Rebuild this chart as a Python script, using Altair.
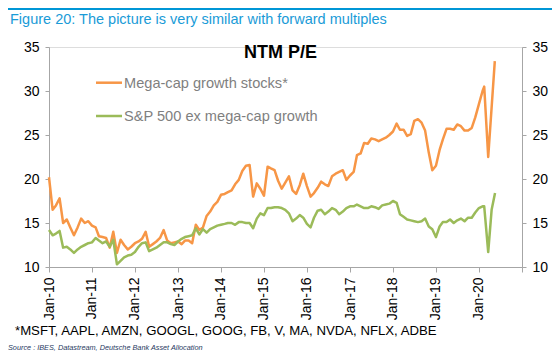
import altair as alt
import pandas as pd

# ---- data ----
# monthly readings Jan-2010 .. Feb-2020
mega_monthly = [
    20.2, 16.5, 17.0, 17.8, 15.0, 15.4, 14.5, 13.6, 14.5, 15.5, 15.0, 15.2,
    14.7, 14.5, 13.5, 13.4, 13.3, 12.2, 14.0, 11.6, 13.1, 12.5, 12.0, 12.3,
    12.7, 12.9, 13.2, 14.0, 12.3, 12.6, 12.9, 13.3, 14.2, 13.0, 12.7, 12.8,
    12.9, 12.6, 13.0, 13.0, 12.7, 14.8, 14.2, 14.5, 15.8, 16.3, 17.0, 17.4,
    18.2, 18.3, 18.5, 18.7, 19.4, 19.9, 20.9, 21.5, 21.6, 18.0, 19.5, 18.9,
    18.1, 21.4, 21.2, 21.0, 19.8, 18.9, 19.6, 20.3, 18.7, 18.3, 19.3, 20.6,
    19.2, 18.0, 18.4, 19.0, 19.7, 19.4, 19.2, 20.3, 20.6, 20.8, 21.0, 19.9,
    20.4, 20.8, 22.7, 22.9, 24.1, 24.0, 24.6, 24.5, 24.3, 24.5, 24.7, 25.0,
    25.4, 26.3, 25.6, 25.6, 24.9, 25.1, 26.6, 26.8, 26.4, 25.5, 23.0, 21.0,
    21.5, 23.3, 24.5, 25.7, 25.7, 25.6, 26.2, 26.0, 25.5, 25.5, 25.8, 27.0,
    28.5, 30.0,
]
ex_monthly = [
    14.2, 13.6, 13.8, 14.1, 12.2, 12.3, 12.0, 11.6, 12.0, 12.3, 12.5, 12.7,
    12.8, 13.3, 13.0, 12.7, 12.9, 12.3, 13.1, 10.3, 10.7, 11.1, 11.3, 11.4,
    11.7, 12.3, 12.7, 12.8, 11.8, 12.0, 12.2, 12.5, 12.8, 12.8, 12.6, 12.5,
    12.9, 13.2, 13.4, 13.5, 13.6, 14.4, 13.7, 14.3, 13.9, 14.3, 14.5, 14.7,
    14.8, 14.9, 15.0, 15.0, 14.8, 15.1, 15.1, 15.0, 15.0, 14.4, 15.5, 16.1,
    15.9, 16.7, 16.7, 16.8, 16.8, 16.7, 16.5, 16.1, 15.2, 15.5, 15.9, 15.6,
    14.9, 14.5, 15.6, 16.4, 16.5, 16.0, 16.3, 16.7, 16.5, 16.0, 16.3, 16.7,
    16.9, 16.9, 17.1, 16.9, 16.7, 16.7, 16.9, 16.8, 16.6, 17.0, 17.1, 17.2,
    17.5, 17.3, 16.0, 15.7, 15.4, 15.3, 15.2, 15.1, 15.2, 15.5, 14.6, 14.3,
    13.4, 14.6, 15.1, 15.1, 15.4, 15.0, 15.3, 15.5, 15.2, 15.6, 15.6, 16.2,
    16.7, 16.9,
]
# last readings of 2020 (irregular spacing)
mega_tail_dates = ["2020-02-15", "2020-03-20", "2020-05-15"]
mega_tail = [30.5, 22.5, 33.4]
ex_tail_dates = ["2020-02-15", "2020-03-20", "2020-04-18", "2020-05-17"]
ex_tail = [16.9, 11.7, 16.5, 18.4]

series_names = ["Mega-cap growth stocks*", "S&P 500 ex mega-cap growth"]
series_colors = ["#F79646", "#9BBB59"]
y_ticks = [10, 15, 20, 25, 30, 35]
x_tick_years = list(range(2010, 2022))

header = "Figure 20: The picture is very similar with forward multiples"
chart_title = "NTM P/E"
footnote = "*MSFT, AAPL, AMZN, GOOGL, GOOG, FB, V, MA, NVDA, NFLX, ADBE"
source = "Source : IBES, Datastream, Deutsche Bank Asset Allocation"

# ---- table ----
months = pd.date_range("2010-01-01", periods=len(mega_monthly), freq="MS")
rows = []
for d, v in zip(months, mega_monthly):
    rows.append({"date": d, "value": v, "series": series_names[0]})
for d, v in zip(mega_tail_dates, mega_tail):
    rows.append({"date": pd.Timestamp(d), "value": v, "series": series_names[0]})
for d, v in zip(months, ex_monthly):
    rows.append({"date": d, "value": v, "series": series_names[1]})
for d, v in zip(ex_tail_dates, ex_tail):
    rows.append({"date": pd.Timestamp(d), "value": v, "series": series_names[1]})
df = pd.DataFrame(rows)
df["date"] = df["date"].dt.strftime("%Y-%m-%d")

FONT = "Liberation Sans"
AXIS_GREY = "#A6A6A6"

x_scale = alt.Scale(domain=["2010-01-01", "2021-01-01"], nice=False)
y_scale = alt.Scale(domain=[10, 35], nice=False, zero=False)
color_scale = alt.Scale(domain=series_names, range=series_colors)

x_axis = alt.Axis(
    values=[f"{y}-01-01" for y in x_tick_years],
    labelExpr="year(datum.value) >= 2021 ? '' : timeFormat(datum.value, '%b-%y')",
    labelAngle=-90, labelAlign="right", labelBaseline="middle",
    labelFont=FONT, labelFontSize=14, labelColor="#000000", labelPadding=5,
    tickSize=5, tickColor=AXIS_GREY, domainColor=AXIS_GREY, domainWidth=1,
    grid=False, title=None, labelOverlap=False,
)

def y_axis(orient):
    return alt.Axis(
        orient=orient, values=y_ticks, labelFont=FONT, labelFontSize=14,
        labelColor="#000000", labelPadding=6, tickSize=4, tickColor=AXIS_GREY,
        domainColor=AXIS_GREY, grid=False, title=None,
    )

base = alt.Chart(df)
lines_left = base.mark_line(strokeWidth=2.5, strokeJoin="round").encode(
    x=alt.X("date:T", scale=x_scale, axis=x_axis),
    y=alt.Y("value:Q", scale=y_scale, axis=y_axis("left")),
    color=alt.Color("series:N", scale=color_scale, legend=None),
    order=alt.Order("date:T"),
)
right_axis_layer = base.mark_line(opacity=0).encode(
    x=alt.X("date:T", scale=x_scale, axis=x_axis),
    y=alt.Y("value:Q", scale=y_scale, axis=y_axis("right")),
    detail="series:N",
)

def text_layer(txt, x, y, size, color, weight="normal", style="normal",
               align="left", font=FONT):
    return alt.Chart(pd.DataFrame({"t": [txt]})).mark_text(
        align=align, baseline="alphabetic", font=font, fontSize=size,
        color=color, fontWeight=weight, fontStyle=style,
    ).encode(text="t:N", x=alt.value(x), y=alt.value(y))

legend_lines = alt.Chart(pd.DataFrame({"series": series_names, "yy": [35.7, 69.0]})).mark_rule(
    strokeWidth=2.5
).encode(
    x=alt.value(47), x2=alt.value(73), y=alt.Y("yy:Q", scale=None),
    color=alt.Color("series:N", scale=color_scale, legend=None),
)

top_border = alt.Chart(pd.DataFrame({"a": [0]})).mark_rule(
    color="#0096D6", strokeWidth=2
).encode(x=alt.value(-41), x2=alt.value(503), y=alt.value(-38))

chart = alt.layer(
    lines_left,
    right_axis_layer,
    legend_lines,
    top_border,
    text_layer(header, -39, -23, 14.5, "#1A9BD7"),
    text_layer(chart_title, 231.5, 11, 18, "#000000", weight="bold", align="center"),
    text_layer(series_names[0], 75, 41, 14.6, "#7F7F7F"),
    text_layer(series_names[1], 75, 74, 14.6, "#7F7F7F"),
    text_layer(footnote, -34, 288, 13.2, "#000000"),
    text_layer(source, -41, 303, 7.3, "#1F3A5F", style="italic"),
).resolve_axis(y="independent").properties(
    width=473, height=220,
    autosize=alt.AutoSizeParams(type="none"),
    padding={"left": 41, "top": 39, "right": 30, "bottom": 87},
).configure_view(stroke=None).configure(background="white")

chart.save("out.html", embed_options={"renderer": "svg", "actions": False})
